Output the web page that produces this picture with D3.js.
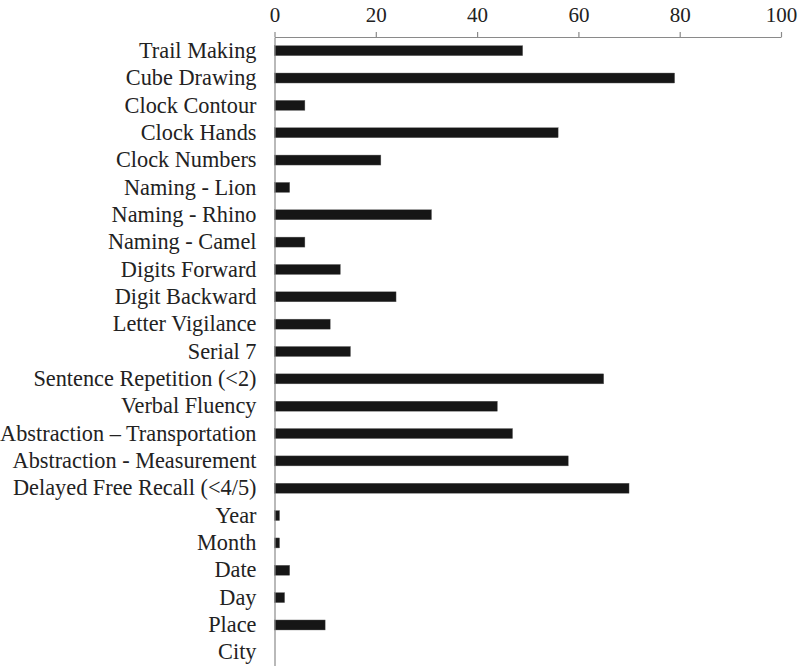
<!DOCTYPE html>
<html>
<head>
<meta charset="utf-8">
<script src="https://cdn.jsdelivr.net/npm/d3@7"></script>
<style>
  body { margin: 0; background: #fff; }
  svg text { font-family: "Liberation Serif", "DejaVu Serif", serif; fill: #222; }
</style>
</head>
<body>
<div id="chart"></div>
<script>
// categories, top to bottom
const tasks = ["Trail Making", "Cube Drawing", "Clock Contour", "Clock Hands", "Clock Numbers",
	"Naming - Lion", "Naming - Rhino", "Naming - Camel", "Digits Forward", "Digit Backward",
	"Letter Vigilance", "Serial 7", "Sentence Repetition (<2)", "Verbal Fluency",
	"Abstraction \u2013 Transportation", "Abstraction - Measurement", "Delayed Free Recall (<4/5)",
	"Year", "Month", "Date", "Day", "Place", "City"];
const percents = [49, 79, 6, 56, 21, 3, 31, 6, 13, 24, 11, 15, 65, 44, 47, 58, 70, 1, 1, 3, 2, 10, 0];
const xTicks = [0, 20, 40, 60, 80, 100];

const width = 798;
const height = 666;
const mLeft = 274.5, mRight = 781, mTop = 37, mBottom = 666;

var svg = d3.select("#chart")
	.append("svg")
	.attr("width", width)
	.attr("height", height);

var x = d3.scaleLinear()
	.domain([0, 100])
	.range([mLeft, mRight]);

var y = d3.scaleBand()
	.domain(tasks)
	.range([mTop, mBottom]);

const barH = 10;

// bars
svg.append("g")
	.selectAll("rect")
	.data(tasks)
	.enter()
	.append("rect")
	.attr("x", x(0))
	.attr("y", d => y(d) + y.bandwidth() / 2 - barH / 2)
	.attr("width", (d, i) => x(percents[i]) - x(0))
	.attr("height", barH)
	.attr("fill", "#161616")
	.attr("stroke", "#666")
	.attr("stroke-width", 0.4);

// top axis
var x_axis = d3.axisTop(x)
	.tickValues(xTicks)
	.tickSize(5)
	.tickSizeOuter(0)
	.tickPadding(10);

svg.append("g")
	.attr("transform", "translate(0," + mTop + ")")
	.call(x_axis)
	.call(g => g.selectAll("path, line").attr("stroke", "#8a8a8a").attr("stroke-width", 1.2))
	.call(g => g.selectAll("text").style("font-size", "21px").attr("fill", "#222"));

// left axis, labels only
var y_axis = d3.axisLeft(y)
	.tickSize(0)
	.tickPadding(18);

svg.append("g")
	.attr("transform", "translate(" + mLeft + ",0)")
	.call(y_axis)
	.call(g => g.select("path").attr("stroke", "#8a8a8a").attr("stroke-width", 1.2))
	.call(g => g.selectAll("text").style("font-size", "22.3px").attr("fill", "#222"));
</script>
</body>
</html>
